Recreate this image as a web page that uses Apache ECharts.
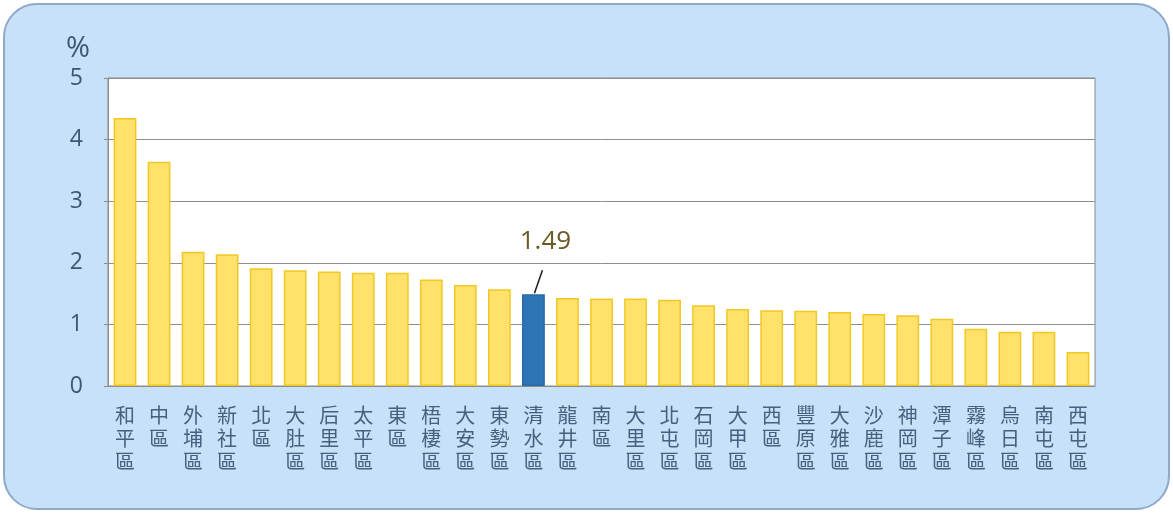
<!DOCTYPE html>
<html><head><meta charset="utf-8">
<script src="https://cdn.jsdelivr.net/npm/echarts@6/dist/echarts.min.js"></script>
<style>
html,body{margin:0;padding:0;background:#fff;}
#wrap{position:absolute;left:3px;top:3px;width:1163px;height:503px;background:#C7E1F9;border:2px solid #8FA9C9;border-radius:34px;}
#chart{position:absolute;left:0;top:0;width:1173px;height:513px;}
</style></head>
<body>
<div id="wrap"></div>
<div id="chart"></div>
<script>
const categories = ['和平區','中區','外埔區','新社區','北區','大肚區','后里區','太平區','東區','梧棲區','大安區','東勢區','清水區','龍井區','南區','大里區','北屯區','石岡區','大甲區','西區','豐原區','大雅區','沙鹿區','神岡區','潭子區','霧峰區','烏日區','南屯區','西屯區'];
const values = [4.35,3.64,2.18,2.14,1.91,1.88,1.86,1.84,1.84,1.73,1.64,1.57,1.49,1.43,1.42,1.42,1.40,1.31,1.25,1.23,1.22,1.20,1.17,1.15,1.09,0.93,0.88,0.88,0.55];
const highlight = '清水區';
const yTicks = [0,1,2,3,4,5];
const hi = categories.indexOf(highlight);

const chart = echarts.init(document.getElementById('chart'));
const data = values.map((v,i)=>{
  if (i === hi) {
    return {
      value: v,
      itemStyle:{color:'#2E75B6', borderColor:'#2A6AA6'},
      label:{show:true, position:'top', formatter:'{c}', color:'#6B5A24', fontSize:26, fontFamily:'Open Sans, Noto Sans, sans-serif', distance:0, offset:[12,-40]}
    };
  }
  return v;
});
chart.setOption({
  animation:false,
  grid:{left:108,right:78,top:78,bottom:127,show:true,backgroundColor:'#fff',borderColor:'#8C8C8C',borderWidth:1},
  xAxis:{type:'category',data:categories,
    axisLine:{show:true,lineStyle:{color:'#8C8C8C'}},axisTick:{show:false},
    axisLabel:{interval:0,margin:18,color:'#48607F',fontSize:20,lineHeight:23,fontFamily:'Noto Sans CJK TC',
      formatter:(s)=>s.split('').join('\n')}},
  yAxis:{type:'value',min:0,max:5,interval:1,name:'%',nameLocation:'end',nameGap:15,
    nameTextStyle:{color:'#3E5575',fontSize:29,fontFamily:'Open Sans, sans-serif',align:'right',padding:[0,18,0,0]},
    axisLine:{show:true,lineStyle:{color:'#8C8C8C'}},axisTick:{show:true,length:4,lineStyle:{color:'#8C8C8C'}},
    splitLine:{show:true,lineStyle:{color:'#8E8E8E',width:1}},
    axisLabel:{color:'#3E5575',fontSize:23,margin:25,fontFamily:'Open Sans, sans-serif',
      formatter:(v)=>yTicks.includes(v)?String(v):''}},
  series:[{type:'bar',data:data,barCategoryGap:'33%',
    itemStyle:{color:'#FFE16B',borderColor:'#F2C924',borderWidth:1.5}
  }]
});
// leader line anchored to the highlighted bar's top via the library's scale
const p = chart.convertToPixel({seriesIndex:0}, [hi, values[hi]]);
chart.setOption({graphic:[{type:'line',shape:{x1:p[0]+1,y1:p[1]-1,x2:p[0]+9,y2:p[1]-24},style:{stroke:'#1a1a1a',lineWidth:1.5},z:100}]});
</script>
</body></html>
